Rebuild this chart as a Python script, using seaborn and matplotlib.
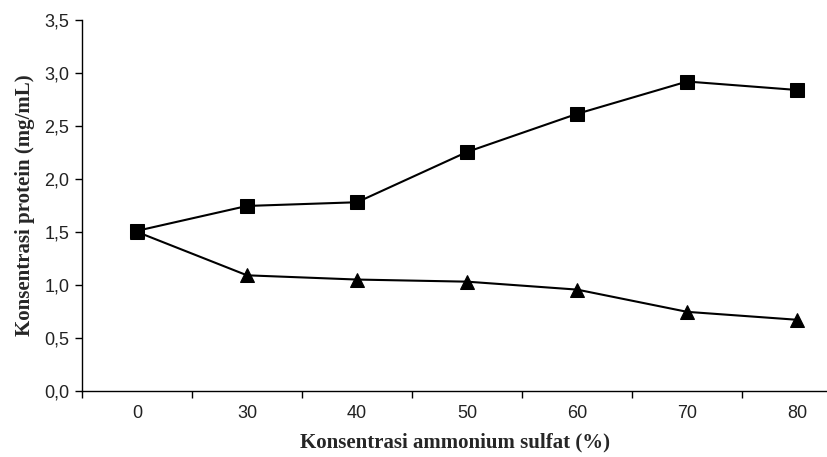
import numpy as np
import pandas as pd
import matplotlib
matplotlib.use("Agg")
import matplotlib.pyplot as plt
from matplotlib.ticker import FixedLocator, FuncFormatter
import seaborn as sns

# data
konsentrasi = ["0", "30", "40", "50", "60", "70", "80"]
seri_kotak = [1.51, 1.745, 1.78, 2.255, 2.615, 2.92, 2.84]
seri_segitiga = [1.50, 1.09, 1.05, 1.03, 0.955, 0.745, 0.67]

sns.set_style("white")
plt.rcParams["font.family"] = ["Liberation Sans", "DejaVu Sans"]

pos = np.arange(len(konsentrasi))
df = pd.DataFrame({"pos": pos, "kotak": seri_kotak, "segitiga": seri_segitiga})

fig, ax = plt.subplots(figsize=(8.28, 4.57), dpi=100)
sns.lineplot(data=df, x="pos", y="kotak", ax=ax, color="black", lw=1.5,
             marker="s", markersize=9.5, markeredgecolor="black")
sns.lineplot(data=df, x="pos", y="segitiga", ax=ax, color="black", lw=1.5,
             marker="^", markersize=9.5, markeredgecolor="black")

ax.set_xlim(-0.5, 6.28)
ax.set_ylim(0, 3.5)
ax.set_yticks(np.arange(0, 3.51, 0.5))
ax.yaxis.set_major_formatter(FuncFormatter(lambda v, p: f"{v:.1f}".replace(".", ",")))
ax.set_xticks(pos)
ax.set_xticklabels(konsentrasi)
ax.xaxis.set_minor_locator(FixedLocator(np.arange(-0.5, 6.5, 1.0)))
ax.tick_params(axis="x", which="major", length=0, pad=10, labelsize=13, colors="#222222")
ax.tick_params(axis="x", which="minor", length=5, width=1, direction="out", color="black", bottom=True)
ax.tick_params(axis="y", length=5, width=1, direction="out", labelsize=13, colors="#222222", left=True, pad=4)
ax.tick_params(axis="y", color="black")

for s in ["top", "right"]:
    ax.spines[s].set_visible(False)
for s in ["left", "bottom"]:
    ax.spines[s].set_color("black")
    ax.spines[s].set_linewidth(1)

ax.set_xlabel("Konsentrasi ammonium sulfat (%)", fontfamily="Liberation Serif",
              fontweight="bold", fontsize=15, labelpad=8)
ax.set_ylabel("Konsentrasi protein (mg/mL)", fontfamily="Liberation Serif",
              fontweight="bold", fontsize=15, labelpad=7)

fig.subplots_adjust(left=0.099, right=1.0, top=0.956, bottom=0.145)
fig.savefig("out.png", dpi=100)
